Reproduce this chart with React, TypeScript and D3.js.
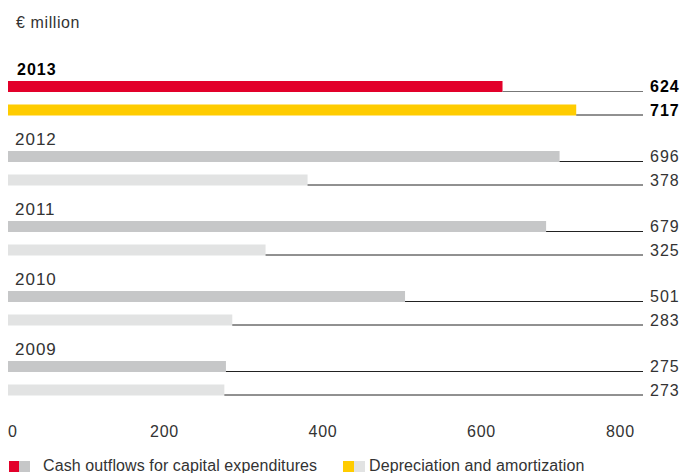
import React from "react";
import * as d3 from "d3";

const years = ["2013", "2012", "2011", "2010", "2009"];
const capex = [624, 696, 679, 501, 275];
const depreciation = [717, 378, 325, 283, 273];
const tickValues = [0, 200, 400, 600, 800];
const unitLabel = "€ million";
const legendLabels = ["Cash outflows for capital expenditures", "Depreciation and amortization"];

const W = 683;
const H = 473;
const FONT = "'Liberation Sans', Arial, sans-serif";

export default function App() {
  const x = d3.scaleLinear().domain([0, 800]).range([8, 642]);
  const rowY = d3.scaleLinear().domain([0, 1]).range([75, 145]);
  const lineEnd = 643;
  const barH = 11;

  return (
    <div style={{ position: "absolute", left: 0, top: 0 }}>
      <svg width={W} height={H} style={{ display: "block", fontFamily: FONT }}>
        <text x={16} y={28} fontSize={16} fill="#333" letterSpacing={0.6}>{unitLabel}</text>
        {years.map((yr, i) => {
          const base = rowY(i);
          const hl = i === 0;
          const c1 = hl ? "#E2002A" : "#C6C7C8";
          const c2 = hl ? "#FFCC00" : "#E2E3E3";
          const b1 = base + 6;
          const b2 = base + 29.5;
          const vals = [capex[i], depreciation[i]];
          const tops = [b1, b2];
          const cols = [c1, c2];
          return (
            <g key={yr}>
              <text x={hl ? 17 : 15} y={base} fontSize={hl ? 16 : 17} fontWeight={hl ? "bold" : "normal"}
                fill={hl ? "#000" : "#333"} letterSpacing={1}>{yr}</text>
              {vals.map((v, j) => (
                <g key={j}>
                  <rect x={x(0)} y={tops[j]} width={x(v) - x(0)} height={barH} fill={cols[j]} />
                  <line x1={x(v)} x2={lineEnd} y1={tops[j] + barH - 0.5} y2={tops[j] + barH - 0.5}
                    stroke={hl && j === 0 ? "#777" : "#222"} strokeWidth={1} />
                  <text x={650} y={tops[j] + barH} fontSize={16} fontWeight={hl ? "bold" : "normal"}
                    fill={hl ? "#000" : "#333"} letterSpacing={1}>{v}</text>
                </g>
              ))}
            </g>
          );
        })}
        {tickValues.map((t, i) => {
          const first = i === 0;
          const last = i === tickValues.length - 1;
          return (
            <text key={t} x={first ? x(t) : last ? x(t) - 7 : x(t) - 2} y={437} fontSize={16} fill="#333"
              letterSpacing={0.8} textAnchor={first ? "start" : last ? "end" : "middle"}>{t}</text>
          );
        })}
        <g>
          <rect x={9} y={461} width={10} height={11} fill="#E2002A" />
          <rect x={19} y={461} width={11} height={11} fill="#C6C7C8" />
          <text x={43} y={471} fontSize={16} fill="#333" letterSpacing={0.1}>{legendLabels[0]}</text>
          <rect x={343} y={461} width={11} height={11} fill="#FFCC00" />
          <rect x={354} y={461} width={11} height={11} fill="#E2E3E3" />
          <text x={369} y={471} fontSize={16} fill="#333" letterSpacing={0.1}>{legendLabels[1]}</text>
        </g>
      </svg>
    </div>
  );
}
